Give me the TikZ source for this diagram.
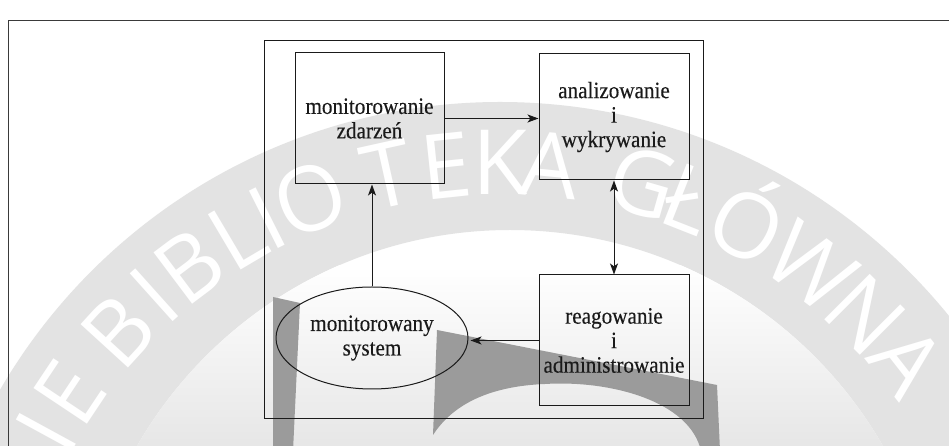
\documentclass[tikz,border=0pt]{standalone}
\usepackage{fontspec}
\setmainfont{Liberation Serif}[FakeStretch=0.9, FakeBold=0.3]
\newfontfamily\wmfont{Open Sans}
\usetikzlibrary{arrows.meta,shapes.geometric}

\definecolor{bandgrey}{HTML}{E3E3E3}
\definecolor{markgrey}{HTML}{9B9B9B}
\definecolor{framegrey}{HTML}{3A3A3A}
\definecolor{inkline}{HTML}{1A1A1A}

\tikzset{
  labeltext/.style={font=\fontsize{23.5}{24.5}\selectfont, text=inkline, align=center},
  procbox/.style={labeltext, draw=inkline, line width=1pt, rectangle, inner sep=0pt},
  sysnode/.style={labeltext, draw=inkline, line width=1pt, ellipse, inner sep=0pt,
                  minimum width=192pt, minimum height=102pt},
  tip/.tip={Stealth[length=11pt,width=8pt,inset=2.8pt]},
  flow/.style={draw=inkline, line width=1pt, -tip},
  flowboth/.style={draw=inkline, line width=1pt, tip-tip},
  wmletter/.style={text=white, font=\wmfont\fontsize{90}{90}\selectfont,
                   inner sep=0pt, anchor=base},
}

\begin{document}
\begin{tikzpicture}[x=1pt,y=1pt]
  \useasboundingbox (0,0) rectangle (949,446);
  \clip (0,0) rectangle (949,446);
  \fill[white] (0,0) rectangle (949,446);

  % background seal: grey ring with lettering
  \fill[bandgrey, even odd rule] (500,-234) circle[radius=578] (510,-214) circle[radius=430];
  \begin{scope}
    \clip (510,-214) circle[radius=430];
    \shade[top color=white, bottom color=bandgrey!90] (0,-5) rectangle (949,180);
  \end{scope}

  % seal emblem
  \fill[markgrey] (273,149) -- (300,143) -- (293,-5) -- (273,-5) -- cycle;
  \fill[markgrey] (437,116) -- (717,61) -- (720,-5) -- (701,-5)
        .. controls (690,45) and (610,66) .. (545,62)
        .. controls (495,60) and (455,45) .. (433,11) -- cycle;

  \foreach \l/\a in {I/151.4, E/146.3, B/137.6, I/131.9, B/126.9, L/120.6, I/116.8,
                     O/111.5, T/102.5, E/96, K/90, A/84.5,
                     G/74, Ł/68.5, Ó/61.5, W/53, N/45, A/38}
    \node[wmletter, rotate=\a-90] at ([shift={(\a:485)}]500,-234) {\l};

  % frames
  \draw[framegrey, line width=0.8pt] (8,-5) -- (8,426) -- (955,426);
  \draw[inkline, line width=1pt] (264,27) rectangle (703,405);

  % process blocks
  \node[procbox, minimum width=149pt, minimum height=131pt] (mon) at (369.5,327.5)
       {monitorowanie\\zdarzeń};
  \node[procbox, minimum width=150pt, minimum height=126pt] (ana) at (614,329)
       {analizowanie\\i\\wykrywanie};
  \node[procbox, minimum width=150pt, minimum height=131pt] (rea) at (614,105.5)
       {reagowanie\\i\\administrowanie};
  \node[sysnode] (sys) at (372,108) {monitorowany\\system};

  % flows
  \draw[flow] (mon.east) -- (mon.east -| ana.west);
  \draw[flow] (sys.north) -- (sys.north |- mon.south);
  \draw[flowboth] (ana.south) -- (rea.north);
  \draw[flow, shorten >=2pt] (rea.west) -- (rea.west -| sys.east);
\end{tikzpicture}
\end{document}
